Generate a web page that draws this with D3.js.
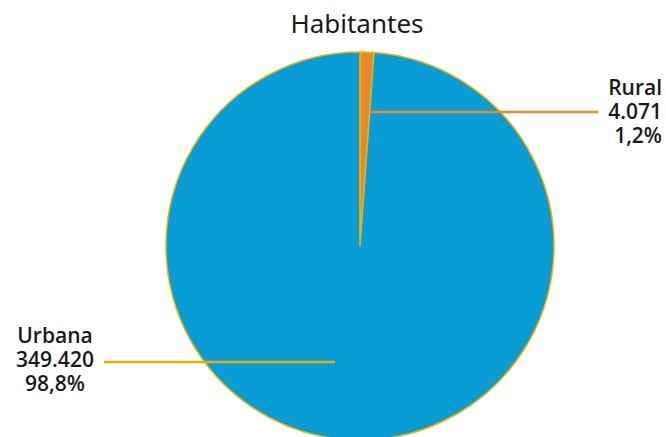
<!DOCTYPE html>
<html>
<head>
<meta charset="utf-8">
<script src="https://cdn.jsdelivr.net/npm/d3@7"></script>
<style>
  body { margin: 0; background: #fff; }
  text { font-family: "Noto Sans", "Open Sans", sans-serif; fill: #1a1a1a; }
  .lbl { font-family: "Open Sans", "Noto Sans", sans-serif; }
</style>
</head>
<body>
<div id="container"></div>
<script>
"use strict";

const width = 666;
const height = 437;

// data
const categories = ["Rural", "Urbana"];
const values = [4071, 349420];
const valueLabels = ["4.071", "349.420"];
const pctLabels = ["1,2%", "98,8%"];
const colors = ["#e8892b", "#0a9cd4"];
const leaderColors = ["#e8892b", "#e9b000"];

const cx = 360, cy = 246, radius = 194;

const svg = d3.select("#container").append("svg")
    .attr("width", width)
    .attr("height", height);

// title
svg.append("text")
    .attr("x", 357)
    .attr("y", 33)
    .attr("text-anchor", "middle")
    .style("font-size", "26px")
    .text("Habitantes");

const pie = d3.pie().sort(null).value(d => d);
const arcs = pie(values);
const arc = d3.arc().innerRadius(0).outerRadius(radius);

const g = svg.append("g").attr("transform", `translate(${cx},${cy})`);

g.selectAll("path")
    .data(arcs)
    .enter()
    .append("path")
    .attr("d", arc)
    .style("fill", (d, i) => colors[i])
    .style("stroke", "#f0b400")
    .style("stroke-width", 1.5)
    .style("stroke-linejoin", "round");

// leader lines + labels (placed like the original, outside the pie)
const labels = [
    { x: 662, y: 95, anchor: "end", line: [[370, 112], [598, 112]] },
    { x: 55, y: 343, anchor: "middle", line: [[104, 362], [335, 362]] }
];

labels.forEach((l, i) => {
    svg.append("line")
        .attr("x1", l.line[0][0]).attr("y1", l.line[0][1])
        .attr("x2", l.line[1][0]).attr("y2", l.line[1][1])
        .style("stroke", leaderColors[i])
        .style("stroke-width", 2.5);

    const t = svg.append("text")
        .attr("class", "lbl")
        .attr("text-anchor", l.anchor)
        .style("font-size", "21px")
        .style("font-weight", 600);
    [categories[i], valueLabels[i], pctLabels[i]].forEach((s, k) => {
        t.append("tspan")
            .attr("x", l.x)
            .attr("y", l.y + k * 24)
            .text(s);
    });
});
</script>
</body>
</html>
